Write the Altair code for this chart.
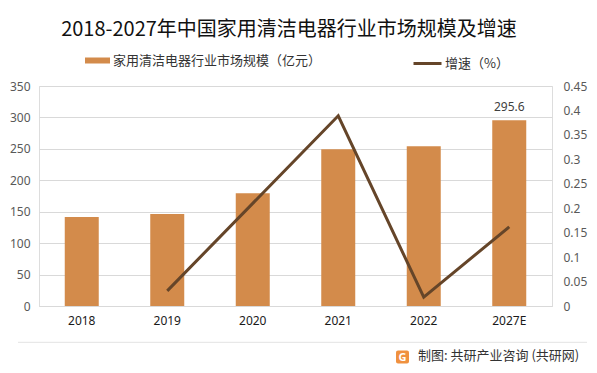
import altair as alt
import pandas as pd

years = ["2018", "2019", "2020", "2021", "2022", "2027E"]
market = [141.5, 146.5, 179.5, 249.5, 254.2, 295.6]
growth_years = ["2019", "2020", "2021", "2022", "2027E"]
growth = [0.031, 0.210, 0.389, 0.018, 0.162]

bar_name = "家用清洁电器行业市场规模（亿元）"
line_name = "增速（%）"
title_text = "2018-2027年中国家用清洁电器行业市场规模及增速"
source_text = "制图: 共研产业咨询 (共研网)"

BAR = "#D38B4B"
LINE = "#654529"
CJK = "Noto Sans CJK SC"
NUM = "Noto Sans"

bars_df = pd.DataFrame({"year": years, "value": market, "s": [bar_name] * len(years)})
line_df = pd.DataFrame({"year": growth_years, "g": growth, "s": [line_name] * len(growth_years)})
label_df = bars_df[bars_df["year"] == "2027E"]

xscale = alt.Scale(domain=years, paddingInner=0, paddingOuter=0)
xaxis = alt.Axis(title=None, labelAngle=0, labelFont=NUM, labelFontSize=12,
                 labelColor="#1a1a1a", labelPadding=9, ticks=False,
                 domainColor="#d9d9d9", domainWidth=1)
yscale = alt.Scale(domain=[0, 350], nice=False)
yaxis = alt.Axis(title=None, values=list(range(0, 351, 50)), domain=False,
                 ticks=False, gridColor="#d9d9d9", labelFont=NUM,
                 labelFontSize=12, labelColor="#595959", labelPadding=9)

bars = alt.Chart(bars_df).mark_bar(size=34, color=BAR).encode(
    x=alt.X("year:N", scale=xscale, axis=xaxis),
    y=alt.Y("value:Q", scale=yscale, axis=yaxis),
    fill=alt.Fill("s:N", scale=alt.Scale(domain=[bar_name], range=[BAR]),
                  legend=alt.Legend(title=None, orient="none", legendX=46, legendY=-38,
                                    symbolType="M-1,-0.24H1V0.24H-1Z", symbolSize=625,
                                    symbolStrokeWidth=0, labelOffset=3, padding=0,
                                    labelLimit=0,
                                    labelFont=CJK, labelFontSize=13, labelColor="#333333")),
)

labels = alt.Chart(label_df).mark_text(baseline="bottom", dy=-6, font=NUM, fontSize=12,
                                       color="#404040").encode(
    x=alt.X("year:N", scale=xscale, axis=xaxis),
    y=alt.Y("value:Q", scale=yscale, axis=yaxis),
    text=alt.Text("value:Q", format=".1f"),
)

left = alt.layer(bars, labels)

line = alt.Chart(line_df).mark_line(strokeWidth=3, color=LINE).encode(
    x=alt.X("year:N", scale=xscale, axis=xaxis),
    y=alt.Y("g:Q", scale=alt.Scale(domain=[0, 0.45], nice=False),
            axis=alt.Axis(title=None, orient="right", values=[i * 0.05 for i in range(10)],
                          format=".2~f", grid=False, domain=False, ticks=False,
                          labelFont=NUM, labelFontSize=12, labelColor="#595959",
                          labelPadding=11)),
    stroke=alt.Stroke("s:N", scale=alt.Scale(domain=[line_name], range=[LINE]),
                      legend=alt.Legend(title=None, orient="none", legendX=373, legendY=-38,
                                        symbolType="stroke", symbolSize=784,
                                        symbolStrokeWidth=3, labelOffset=2, padding=0,
                                        labelLimit=0,
                                        labelFont=CJK, labelFontSize=13,
                                        labelColor="#333333")),
)

one = pd.DataFrame({"t": [title_text]})
title = alt.Chart(one).mark_text(font=CJK, fontSize=20, color="#111111",
                                 align="center", baseline="middle").encode(
    x=alt.value(250), y=alt.value(-56), text="t:N")

sep = alt.Chart(one).mark_rule(color="#e3e3e3", strokeWidth=1).encode(
    x=alt.value(-21), x2=alt.value(548), y=alt.value(256.3))

logo = alt.Chart(one).mark_rect(color="#F0913F", cornerRadius=2).encode(
    x=alt.value(357), x2=alt.value(370), y=alt.value(264.5), y2=alt.value(277.5))
logo_g = alt.Chart(pd.DataFrame({"t": ["G"]})).mark_text(
    font=NUM, fontSize=11, fontWeight="bold", color="white",
    align="center", baseline="middle").encode(
    x=alt.value(363.5), y=alt.value(271.5), text="t:N")

src = alt.Chart(pd.DataFrame({"t": [source_text]})).mark_text(
    font=CJK, fontSize=13, color="#333333", align="left", baseline="middle").encode(
    x=alt.value(379), y=alt.value(270), text="t:N")

chart = alt.layer(left, line, title, sep, logo, logo_g, src).resolve_scale(
    y="independent", fill="independent", stroke="independent"
).properties(
    width=513, height=220,
    autosize=alt.AutoSizeParams(type="none"),
    padding={"left": 31, "top": 78, "right": 37, "bottom": 59},
).configure_view(stroke=None).configure(background="white")

chart.save("out.html", embed_options={"renderer": "svg", "actions": False})
